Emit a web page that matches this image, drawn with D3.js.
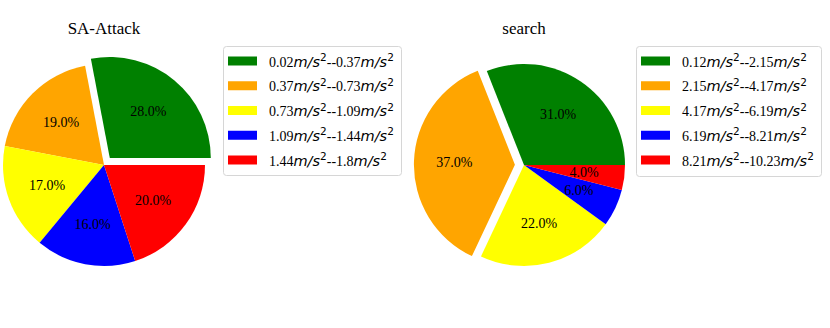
<!DOCTYPE html>
<html><head><meta charset="utf-8">
<script src="https://cdn.jsdelivr.net/npm/d3@7"></script>
<style>body{margin:0;background:#fff}</style>
</head><body>
<svg id="c" width="830" height="328"></svg>
<script>
const colors = ["green", "orange", "yellow", "blue", "red"];
const titleA = "SA-Attack";
const valuesA = [28, 19, 17, 16, 20];
const boundsA = ["0.02", "0.37", "0.73", "1.09", "1.44", "1.8"];
const explodeA = [0.09, 0, 0, 0, 0];
const titleB = "search";
const valuesB = [31, 37, 22, 6, 4];
const boundsB = ["0.12", "2.15", "4.17", "6.19", "8.21", "10.23"];
const explodeB = [0, 0.09, 0, 0, 0];

const svg = d3.select("#c");
const serif = "'Liberation Serif','Times New Roman',serif";
const mathFont = "'DejaVu Sans',sans-serif";

function drawPie(cfg) {
  const r = cfg.r;
  const g = svg.append("g").attr("transform", `translate(${cfg.cx},${cfg.cy})`);
  const pie = d3.pie().sort(null).value(d => d).startAngle(Math.PI / 2).endAngle(Math.PI / 2 - 2 * Math.PI);
  const arcs = pie(cfg.values);
  const arc = d3.arc().innerRadius(0).outerRadius(r);
  const labelArc = d3.arc().innerRadius(r * 0.6).outerRadius(r * 0.6);
  const total = d3.sum(cfg.values);
  arcs.forEach((a, i) => {
    const mid = (a.startAngle + a.endAngle) / 2;
    const off = cfg.explode[i] * r;
    const dx = Math.sin(mid) * off, dy = -Math.cos(mid) * off;
    const wg = g.append("g").attr("transform", `translate(${dx},${dy})`);
    wg.append("path").attr("d", arc(a)).attr("fill", colors[i]);
  });
  arcs.forEach((a, i) => {
    const mid = (a.startAngle + a.endAngle) / 2;
    const off = cfg.explode[i] * r;
    const dx = Math.sin(mid) * off, dy = -Math.cos(mid) * off;
    const c = labelArc.centroid(a);
    g.append("text").attr("x", c[0] + dx).attr("y", c[1] + dy)
      .attr("text-anchor", "middle").attr("dominant-baseline", "central")
      .attr("font-family", serif).attr("font-size", 14)
      .text((a.value / total * 100).toFixed(1) + "%");
  });
  svg.append("text").attr("x", cfg.cx).attr("y", cfg.titleY)
    .attr("text-anchor", "middle").attr("font-family", serif).attr("font-size", 17)
    .text(cfg.title);

  // legend
  const L = cfg.legend;
  svg.append("rect").attr("x", L.x + 0.5).attr("y", L.y + 0.5).attr("width", L.w).attr("height", L.h)
    .attr("rx", 3).attr("fill", "#fff").attr("stroke", "#d6d6d6").attr("stroke-width", 1);
  const rowY = d3.scaleLinear().domain([0, 4]).range([L.y + 15, L.y + 114]);
  cfg.values.forEach((v, i) => {
    const y = rowY(i);
    svg.append("rect").attr("x", L.x + 5).attr("y", y - 4.5).attr("width", 29).attr("height", 9).attr("fill", colors[i]);
    const t = svg.append("text").attr("x", L.x + L.tx).attr("y", y + 5.5).attr("font-size", 14);
    const parts = [[cfg.bounds[i], false], ["m/s", true], ["2", "sup"], ["--", false], [cfg.bounds[i + 1], false], ["m/s", true], ["2", "sup"]];
    parts.forEach((p, k) => {
      const s = t.append("tspan").text(p[0]);
      if (p[1] === true) s.attr("font-family", mathFont).attr("font-style", "italic").attr("font-size", 14.5);
      else if (p[1] === "sup") s.attr("font-family", mathFont).attr("font-size", 10.5).attr("dy", -5.5);
      else s.attr("font-family", serif);
      if (p[1] !== "sup" && k > 0 && parts[k - 1][1] === "sup") s.attr("dy", 5.5);
    });
  });
}

drawPie({cx: 104, cy: 165, r: 101, values: valuesA, explode: explodeA, title: titleA, titleY: 34,
  bounds: boundsA, legend: {x: 223, y: 46, w: 178, h: 129, tx: 46}});
drawPie({cx: 524, cy: 165, r: 101, values: valuesB, explode: explodeB, title: titleB, titleY: 34,
  bounds: boundsB, legend: {x: 636, y: 46, w: 185, h: 130, tx: 46}});
</script>
</body></html>
